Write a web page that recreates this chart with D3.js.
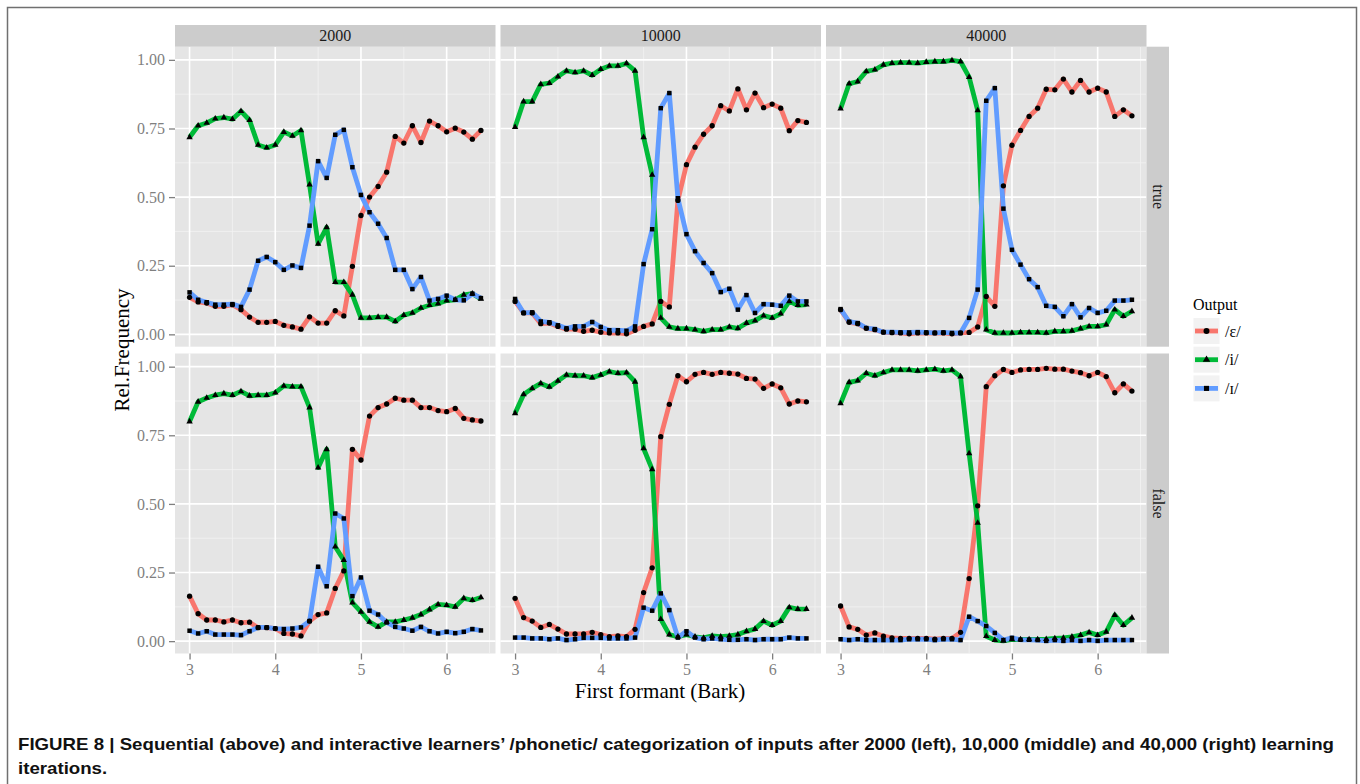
<!DOCTYPE html>
<html>
<head>
<meta charset="utf-8">
<script src="https://cdn.jsdelivr.net/npm/d3@7"></script>
<style>
  body { margin: 0; background: #fff; }
  svg { display: block; }
</style>
</head>
<body>
<svg id="chart" width="1360" height="784"></svg>
<script>
// x positions (Bark)
const formant = [3.0, 3.1, 3.2, 3.3, 3.4, 3.5, 3.6, 3.7, 3.8, 3.9, 4.0, 4.1, 4.2, 4.3, 4.4, 4.5, 4.6, 4.7,
                 4.8, 4.9, 5.0, 5.1, 5.2, 5.3, 5.4, 5.5, 5.6, 5.7, 5.8, 5.9, 6.0, 6.1, 6.2, 6.3, 6.4];

const iterations = ["2000", "10000", "40000"];
const conditions = ["true", "false"];
const outputs = ["/ɛ/", "/i/", "/ɪ/"];

const xTicks = [3, 4, 5, 6];
const yTicks = [0, 0.25, 0.5, 0.75, 1];

// sequential learners (true)
const true2000E = [0.135,0.118,0.114,0.102,0.102,0.108,0.09,0.063,0.044,0.044,0.047,0.033,0.027,0.019,0.064,0.041,0.041,0.086,0.067,0.248,0.433,0.5,0.539,0.591,0.721,0.697,0.76,0.699,0.777,0.76,0.738,0.751,0.737,0.711,0.743];
const true2000I = [0.718,0.76,0.77,0.786,0.79,0.784,0.813,0.78,0.69,0.68,0.69,0.737,0.723,0.743,0.545,0.33,0.39,0.19,0.19,0.144,0.06,0.06,0.063,0.063,0.047,0.07,0.078,0.096,0.106,0.112,0.123,0.126,0.144,0.148,0.129];
const true2000Ih = [0.153,0.126,0.117,0.108,0.108,0.11,0.1,0.163,0.268,0.282,0.263,0.235,0.251,0.242,0.396,0.631,0.57,0.727,0.745,0.609,0.508,0.445,0.403,0.351,0.235,0.235,0.165,0.209,0.123,0.129,0.141,0.126,0.124,0.148,0.132];

const true10000E = [0.12,0.078,0.078,0.039,0.041,0.029,0.019,0.019,0.011,0.015,0.008,0.005,0.005,0.002,0.015,0.029,0.038,0.12,0.1,0.488,0.618,0.682,0.729,0.76,0.833,0.814,0.894,0.818,0.879,0.826,0.839,0.824,0.742,0.779,0.772];
const true10000I = [0.755,0.848,0.848,0.911,0.915,0.939,0.96,0.954,0.96,0.944,0.966,0.978,0.978,0.987,0.96,0.718,0.581,0.06,0.027,0.021,0.021,0.017,0.011,0.017,0.017,0.027,0.022,0.041,0.05,0.068,0.06,0.075,0.12,0.106,0.108];
const true10000Ih = [0.129,0.078,0.08,0.047,0.044,0.033,0.022,0.029,0.029,0.045,0.027,0.015,0.015,0.013,0.029,0.256,0.383,0.824,0.879,0.496,0.365,0.303,0.26,0.223,0.154,0.166,0.09,0.143,0.078,0.11,0.108,0.104,0.141,0.12,0.12];

const true40000E = [0.09,0.044,0.039,0.022,0.017,0.008,0.006,0.005,0.002,0.005,0.005,0.005,0.005,0.002,0.005,0.007,0.027,0.138,0.102,0.541,0.689,0.743,0.794,0.824,0.893,0.891,0.93,0.883,0.925,0.883,0.897,0.883,0.794,0.818,0.796];
const true40000I = [0.822,0.913,0.921,0.958,0.964,0.982,0.988,0.99,0.99,0.988,0.992,0.994,0.994,0.998,0.994,0.937,0.816,0.017,0.005,0.005,0.005,0.007,0.007,0.007,0.005,0.011,0.011,0.013,0.021,0.029,0.029,0.035,0.09,0.066,0.084];
const true40000Ih = [0.092,0.046,0.041,0.023,0.019,0.008,0.008,0.007,0.007,0.008,0.007,0.005,0.007,0.005,0.005,0.06,0.163,0.851,0.897,0.458,0.308,0.254,0.201,0.172,0.104,0.1,0.066,0.11,0.062,0.096,0.078,0.086,0.123,0.123,0.126];

// interactive learners (false)
const false2000E = [0.164,0.1,0.077,0.077,0.07,0.077,0.067,0.069,0.049,0.049,0.046,0.028,0.026,0.019,0.073,0.097,0.103,0.192,0.256,0.699,0.66,0.82,0.851,0.864,0.885,0.878,0.878,0.851,0.851,0.84,0.836,0.848,0.812,0.806,0.802];
const false2000I = [0.8,0.872,0.886,0.896,0.902,0.896,0.91,0.894,0.896,0.896,0.905,0.93,0.927,0.927,0.851,0.632,0.699,0.344,0.295,0.14,0.107,0.07,0.052,0.07,0.07,0.077,0.085,0.097,0.115,0.134,0.131,0.125,0.156,0.149,0.159];
const false2000Ih = [0.038,0.028,0.036,0.024,0.024,0.024,0.022,0.036,0.05,0.05,0.046,0.044,0.046,0.05,0.073,0.271,0.2,0.465,0.447,0.164,0.232,0.111,0.097,0.068,0.052,0.046,0.038,0.052,0.036,0.028,0.034,0.029,0.034,0.044,0.039];

const false10000E = [0.156,0.086,0.073,0.05,0.061,0.044,0.026,0.026,0.026,0.032,0.024,0.016,0.019,0.016,0.043,0.177,0.267,0.745,0.863,0.967,0.945,0.972,0.979,0.972,0.979,0.976,0.973,0.957,0.955,0.921,0.937,0.923,0.864,0.875,0.872];
const false10000I = [0.83,0.899,0.921,0.939,0.926,0.948,0.97,0.967,0.967,0.96,0.97,0.982,0.976,0.978,0.945,0.702,0.626,0.08,0.024,0.016,0.024,0.016,0.012,0.019,0.016,0.019,0.024,0.036,0.044,0.073,0.058,0.073,0.123,0.117,0.117];
const false10000Ih = [0.013,0.013,0.01,0.01,0.007,0.01,0.004,0.007,0.012,0.012,0.012,0.01,0.01,0.01,0.013,0.122,0.111,0.174,0.113,0.013,0.036,0.013,0.007,0.01,0.007,0.005,0.005,0.007,0.004,0.007,0.007,0.007,0.013,0.01,0.01];

const false40000E = [0.128,0.052,0.043,0.022,0.03,0.018,0.012,0.01,0.01,0.01,0.01,0.007,0.01,0.01,0.032,0.228,0.493,0.927,0.967,0.99,0.979,0.988,0.99,0.99,0.994,0.991,0.991,0.984,0.978,0.967,0.979,0.964,0.905,0.937,0.911];
const false40000I = [0.866,0.943,0.949,0.976,0.967,0.979,0.988,0.988,0.988,0.985,0.988,0.991,0.985,0.988,0.964,0.684,0.431,0.018,0.004,0.001,0.006,0.006,0.006,0.006,0.007,0.01,0.012,0.016,0.022,0.032,0.022,0.034,0.095,0.058,0.085];
const false40000Ih = [0.007,0.004,0.007,0.004,0.004,0.004,0.004,0.004,0.007,0.007,0.007,0.004,0.007,0.007,0.004,0.089,0.073,0.055,0.03,0.004,0.012,0.005,0.005,0.004,0.001,0.004,0.001,0.004,0.001,0.004,0.001,0.004,0.004,0.004,0.004];

const panelData = {
    "true": {
        "2000": [true2000E, true2000I, true2000Ih],
        "10000": [true10000E, true10000I, true10000Ih],
        "40000": [true40000E, true40000I, true40000Ih],
    },
    "false": {
        "2000": [false2000E, false2000I, false2000Ih],
        "10000": [false10000E, false10000I, false10000Ih],
        "40000": [false40000E, false40000I, false40000Ih],
    },
};

const colors = ["#F8766D", "#00BA38", "#619CFF"];
const shapes = [d3.symbolCircle, d3.symbolTriangle, d3.symbolSquare];
const shapeSizes = [22, 18, 20];

const SERIF = "'Liberation Serif', 'DejaVu Serif', serif";
const SANS = "'Liberation Sans', Arial, sans-serif";

const svg = d3.select("#chart");

// outer figure frame
svg.append("rect")
    .attr("x", 7.5).attr("y", 7.5)
    .attr("width", 1349).attr("height", 800)
    .attr("fill", "#fff")
    .attr("stroke", "#707070")
    .attr("stroke-width", 1.5);

const panelW = 320.5, panelH = 300;
const colX = [175, 500.5, 826];
const rowY = [46.7, 353.5];

const x = d3.scaleLinear().domain([2.83, 6.57]).range([0, panelW]);
const y = d3.scaleLinear().domain([-0.045, 1.048]).range([panelH, 0]);

const xMinor = [3.5, 4.5, 5.5, 6.5];
const yMinor = [0.125, 0.375, 0.625, 0.875];

conditions.forEach((cond, r) => {
    iterations.forEach((it, c) => {
        const g = svg.append("g")
            .attr("transform", `translate(${colX[c]},${rowY[r]})`);

        g.append("rect")
            .attr("width", panelW).attr("height", panelH)
            .attr("fill", "#E5E5E5");

        // minor grid
        g.selectAll(".vminor").data(xMinor).join("line")
            .attr("x1", d => x(d)).attr("x2", d => x(d))
            .attr("y1", 0).attr("y2", panelH)
            .attr("stroke", "#F2F2F2").attr("stroke-width", 0.8);
        g.selectAll(".hminor").data(yMinor).join("line")
            .attr("y1", d => y(d)).attr("y2", d => y(d))
            .attr("x1", 0).attr("x2", panelW)
            .attr("stroke", "#F2F2F2").attr("stroke-width", 0.8);

        // major grid
        g.selectAll(".vmajor").data(xTicks).join("line")
            .attr("x1", d => x(d)).attr("x2", d => x(d))
            .attr("y1", 0).attr("y2", panelH)
            .attr("stroke", "#fff").attr("stroke-width", 1.6);
        g.selectAll(".hmajor").data(yTicks).join("line")
            .attr("y1", d => y(d)).attr("y2", d => y(d))
            .attr("x1", 0).attr("x2", panelW)
            .attr("stroke", "#fff").attr("stroke-width", 1.6);

        const series = panelData[cond][it];

        // lines
        series.forEach((vals, s) => {
            const line = d3.line()
                .x((d, i) => x(formant[i]))
                .y(d => y(d));
            g.append("path")
                .datum(vals)
                .attr("fill", "none")
                .attr("stroke", colors[s])
                .attr("stroke-width", 4.8)
                .attr("stroke-linejoin", "round")
                .attr("d", line);
        });

        // points
        series.forEach((vals, s) => {
            g.selectAll(".pt" + s).data(vals).join("path")
                .attr("transform", (d, i) => `translate(${x(formant[i])},${y(d)})`)
                .attr("d", d3.symbol().type(shapes[s]).size(shapeSizes[s]))
                .attr("fill", "#000");
        });

        // top strip
        if (r === 0) {
            svg.append("rect")
                .attr("x", colX[c]).attr("y", 25)
                .attr("width", panelW).attr("height", 21.7)
                .attr("fill", "#CCCCCC");
            svg.append("text")
                .attr("x", colX[c] + panelW / 2).attr("y", 41)
                .attr("text-anchor", "middle")
                .style("font-family", SERIF).style("font-size", "16px")
                .style("fill", "#1a1a1a")
                .text(it);
        }

        // right strip
        if (c === 2) {
            const sx = colX[c] + panelW;
            svg.append("rect")
                .attr("x", sx).attr("y", rowY[r])
                .attr("width", 22.5).attr("height", panelH)
                .attr("fill", "#CCCCCC");
            svg.append("text")
                .attr("transform", `translate(${sx + 6},${rowY[r] + panelH / 2}) rotate(90)`)
                .attr("text-anchor", "middle")
                .style("font-family", SERIF).style("font-size", "16px")
                .style("fill", "#1a1a1a")
                .text(cond);
        }

        // y axis
        if (c === 0) {
            const yAxisG = g.append("g").call(
                d3.axisLeft(y).tickValues(yTicks).tickSize(6).tickPadding(4)
                    .tickFormat(d3.format(".2f"))
            );
            yAxisG.select(".domain").remove();
            yAxisG.selectAll(".tick line").attr("stroke", "#7F7F7F").attr("stroke-width", 1.3);
            yAxisG.selectAll("text")
                .style("font-family", SERIF).style("font-size", "16px")
                .style("fill", "#7F7F7F");
        }

        // x axis
        if (r === 1) {
            const xAxisG = g.append("g")
                .attr("transform", `translate(0,${panelH})`)
                .call(d3.axisBottom(x).tickValues(xTicks).tickSize(6).tickPadding(4)
                    .tickFormat(d3.format("d")));
            xAxisG.select(".domain").remove();
            xAxisG.selectAll(".tick line").attr("stroke", "#7F7F7F").attr("stroke-width", 1.3);
            xAxisG.selectAll("text")
                .style("font-family", SERIF).style("font-size", "16px")
                .style("fill", "#7F7F7F");
        }
    });
});

// axis titles
svg.append("text")
    .attr("x", 660).attr("y", 698)
    .attr("text-anchor", "middle")
    .style("font-family", SERIF).style("font-size", "21px")
    .style("fill", "#000")
    .text("First formant (Bark)");

svg.append("text")
    .attr("transform", "translate(129,350) rotate(-90)")
    .attr("text-anchor", "middle")
    .style("font-family", SERIF).style("font-size", "21px")
    .style("fill", "#000")
    .text("Rel.Frequency");

// legend
const legend = svg.append("g").attr("transform", "translate(1193,318)");
legend.append("text")
    .attr("x", 0).attr("y", -8)
    .style("font-family", SERIF).style("font-size", "16px")
    .style("fill", "#000")
    .text("Output");

outputs.forEach((lab, s) => {
    const ky = s * 28.7;
    legend.append("rect")
        .attr("x", 0.5).attr("y", ky)
        .attr("width", 26).attr("height", 26)
        .attr("fill", "#F2F2F2");
    legend.append("line")
        .attr("x1", 2).attr("x2", 25)
        .attr("y1", ky + 13).attr("y2", ky + 13)
        .attr("stroke", colors[s]).attr("stroke-width", 4.8);
    legend.append("path")
        .attr("transform", `translate(13.5,${ky + 13})`)
        .attr("d", d3.symbol().type(shapes[s]).size(shapeSizes[s] + 6))
        .attr("fill", "#000");
    legend.append("text")
        .attr("x", 32).attr("y", ky + 18.5)
        .style("font-family", SERIF).style("font-size", "16px")
        .style("fill", "#000")
        .text(lab);
});

// caption: both lines squeezed by the same ratio so the first ends near the right edge
const cap1 = svg.append("text")
    .attr("x", 18).attr("y", 750)
    .style("font-family", SANS).style("font-size", "17px").style("font-weight", "bold")
    .style("fill", "#111")
    .text("FIGURE 8 | Sequential (above) and interactive learners\u2019 /phonetic/ categorization of inputs after 2000 (left), 10,000 (middle) and 40,000 (right) learning");
const cap2 = svg.append("text")
    .attr("x", 18).attr("y", 774)
    .style("font-family", SANS).style("font-size", "17px").style("font-weight", "bold")
    .style("fill", "#111")
    .text("iterations.");
const ratio = 1316 / cap1.node().getComputedTextLength();
cap1.attr("textLength", 1316).attr("lengthAdjust", "spacingAndGlyphs");
cap2.attr("textLength", cap2.node().getComputedTextLength() * ratio)
    .attr("lengthAdjust", "spacingAndGlyphs");
</script>
</body>
</html>
